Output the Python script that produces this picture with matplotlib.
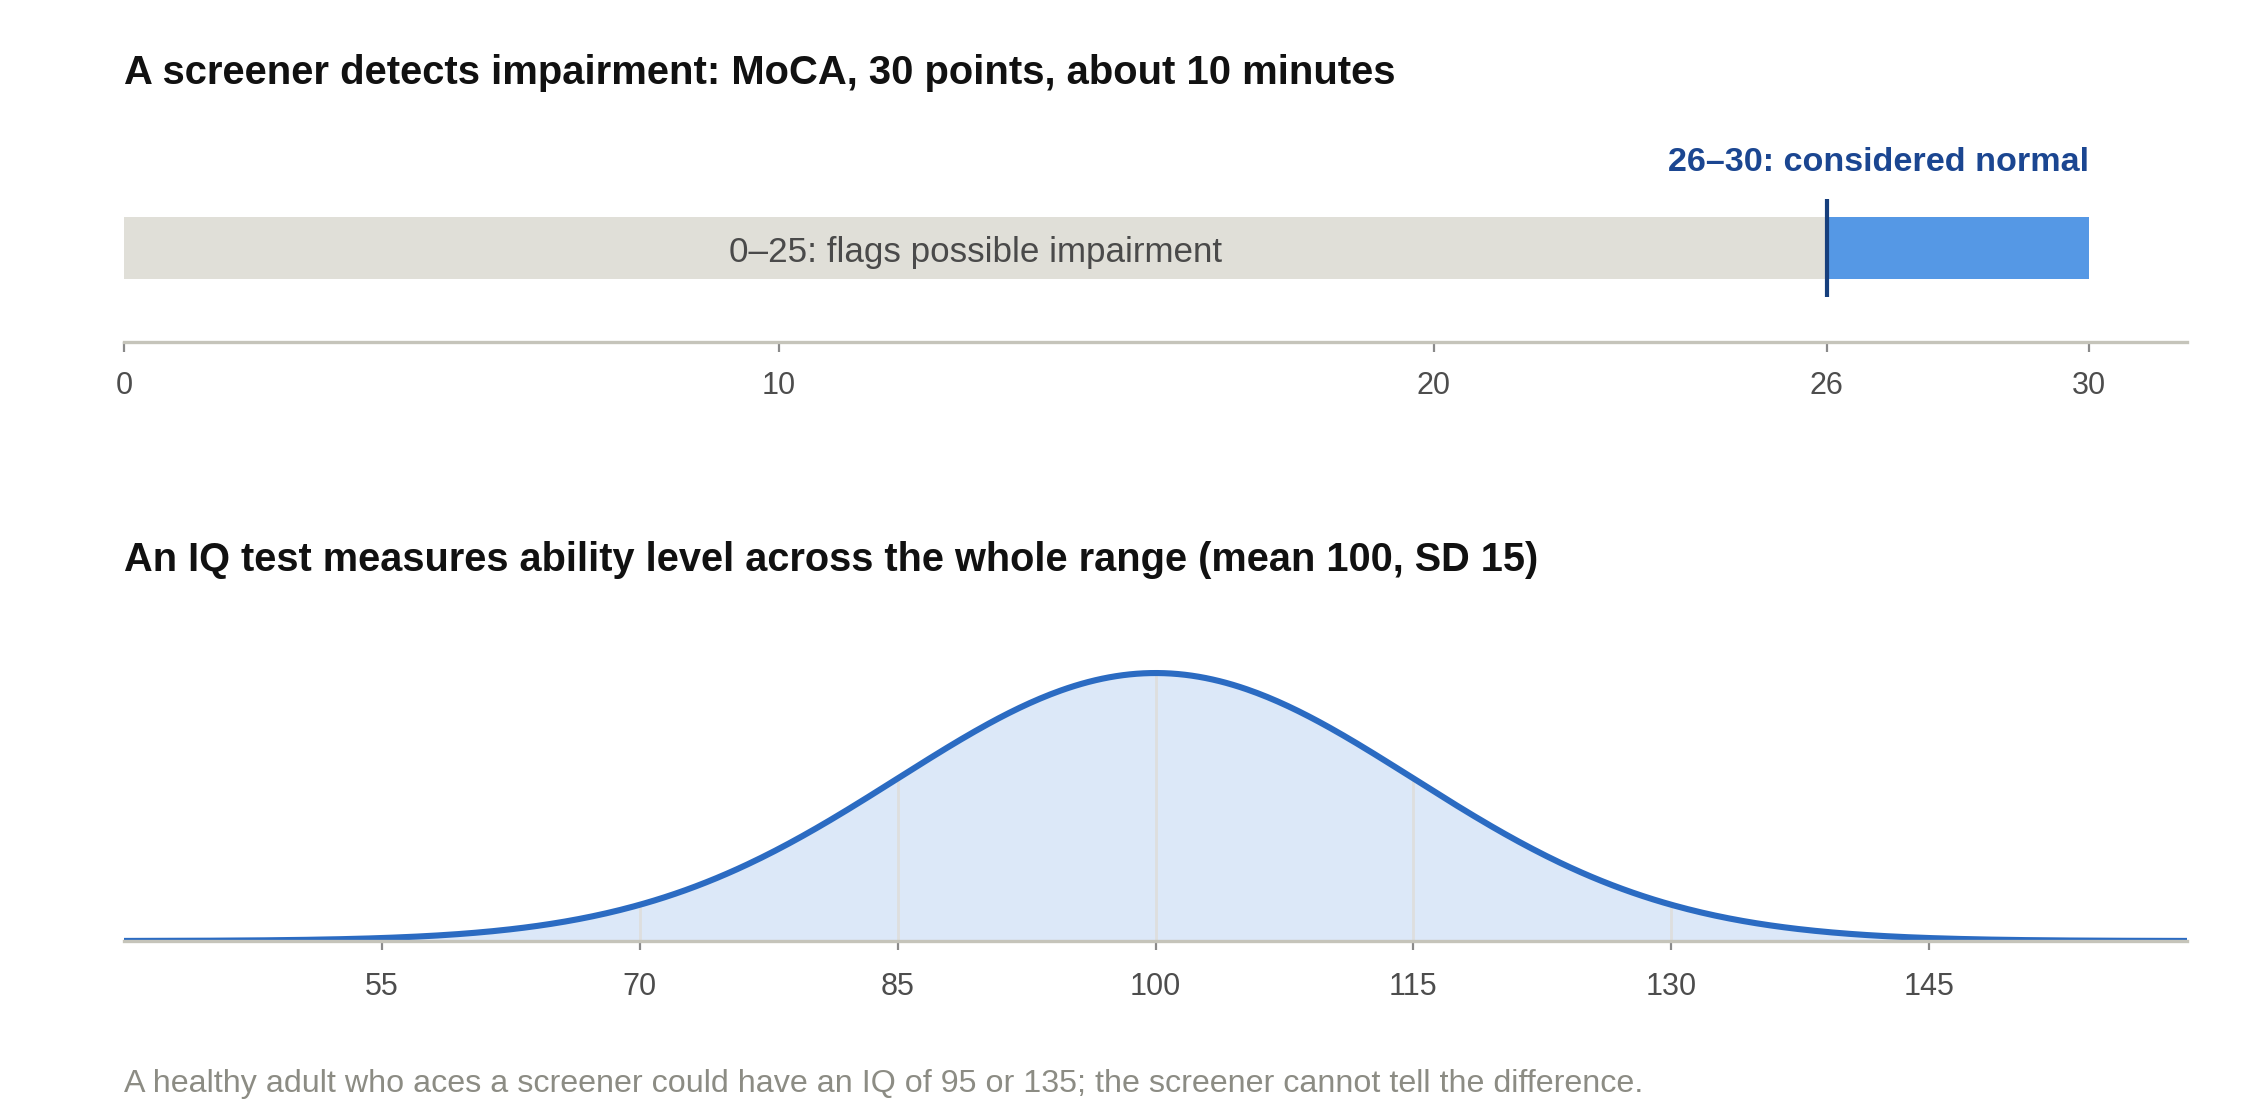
import matplotlib
matplotlib.use("Agg")
import matplotlib.pyplot as plt
import numpy as np

plt.rcParams['font.family'] = ['Liberation Sans', 'DejaVu Sans']

# MoCA screener bands
moca_bands = [(0, 26), (26, 30)]
moca_ticks = [0, 10, 20, 26, 30]
moca_cutoff = 26
impair_label = "0–25: flags possible impairment"
normal_label = "26–30: considered normal"

# IQ distribution
iq_mean = 100
iq_sd = 15
iq_ticks = [55, 70, 85, 100, 115, 130, 145]
iq_range = (40, 160)

title_top = "A screener detects impairment: MoCA, 30 points, about 10 minutes"
title_bottom = "An IQ test measures ability level across the whole range (mean 100, SD 15)"
footnote = ("A healthy adult who aces a screener could have an IQ of 95 or 135; "
            "the screener cannot tell the difference.")

SPINE = "#c5c4ba"
TICK = "#8a8a8a"
TICKLAB = "#4d4d4d"

fig = plt.figure(figsize=(11.28, 5.6), dpi=200)

# ---- top panel: screener ----
ax1 = fig.add_axes([0.05496, 0.6946, 0.9145, 0.1429])
ax1.set_xlim(0, 31.5)
ax1.set_ylim(0, 1)
bar_y, bar_h = 0.5875, 0.387
(lo0, hi0), (lo1, hi1) = moca_bands
ax1.barh(bar_y, hi0 - lo0, left=lo0, height=bar_h, color="#e0dfd8", zorder=1)
ax1.barh(bar_y, hi1 - lo1, left=lo1, height=bar_h, color="#5598e5", zorder=1)
ax1.plot([moca_cutoff, moca_cutoff], [0.281, 0.894], color="#173f7d", lw=1.5,
         solid_capstyle="butt", zorder=3)
ax1.text((lo0 + hi0) / 2, bar_y - 0.025, impair_label, ha="center", va="center",
         fontsize=12.6, color="#4a4a4a")
ax1.text(hi1, 1.069, normal_label, ha="right", va="baseline", fontsize=12.3,
         fontweight="bold", color="#1b4691", clip_on=False)
ax1.set_xticks(moca_ticks)
ax1.set_yticks([])
for s in ["top", "left", "right"]:
    ax1.spines[s].set_visible(False)
ax1.spines["bottom"].set_color(SPINE)
ax1.spines["bottom"].set_linewidth(1.2)
ax1.tick_params(axis="x", length=3.6, width=0.8, color=TICK, labelcolor=TICKLAB,
                labelsize=11, pad=7)

# ---- bottom panel: IQ distribution ----
x = np.linspace(iq_range[0], iq_range[1], 600)
pdf = np.exp(-0.5 * ((x - iq_mean) / iq_sd) ** 2) / (iq_sd * np.sqrt(2 * np.pi))
peak = pdf.max()

ax2 = fig.add_axes([0.05496, 0.1598, 0.9145, 0.2632])
ax2.set_xlim(*iq_range)
ax2.set_ylim(0, peak * 1.1)
ax2.fill_between(x, 0, pdf, color="#dce8f8", lw=0, zorder=1)
for t in iq_ticks:
    v = np.exp(-0.5 * ((t - iq_mean) / iq_sd) ** 2) / (iq_sd * np.sqrt(2 * np.pi))
    ax2.plot([t, t], [0, v], color="#dedede", lw=1.0, zorder=2)
ax2.plot(x, pdf, color="#2b6bc2", lw=2.2, zorder=3, solid_capstyle="butt")
ax2.set_xticks(iq_ticks)
ax2.set_yticks([])
for s in ["top", "left", "right"]:
    ax2.spines[s].set_visible(False)
ax2.spines["bottom"].set_color(SPINE)
ax2.spines["bottom"].set_linewidth(1.2)
ax2.spines["bottom"].set_zorder(4)
ax2.tick_params(axis="x", length=3.3, width=0.8, color=TICK, labelcolor=TICKLAB,
                labelsize=11, pad=8)

# ---- texts ----
fig.text(0.05496, 0.925, title_top, fontsize=14.4, fontweight="bold",
         color="#111111", va="baseline")
fig.text(0.05496, 0.4902, title_bottom, fontsize=14.3, fontweight="bold",
         color="#111111", va="baseline")
fig.text(0.05496, 0.025, footnote, fontsize=11.6, color="#8c8c84", va="baseline")

fig.savefig("out.png", dpi=200)
